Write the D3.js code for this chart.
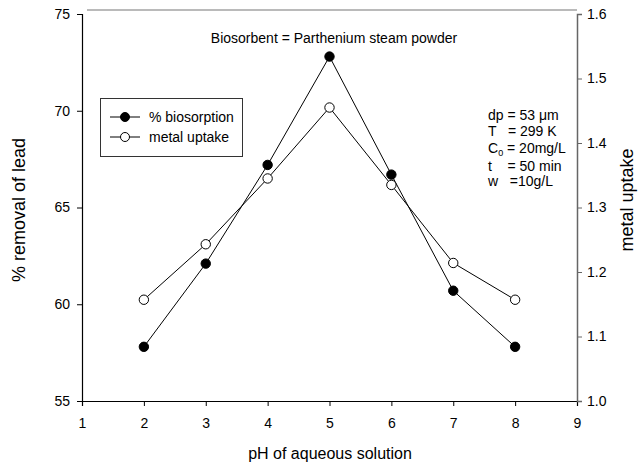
<!DOCTYPE html>
<html>
<head>
<meta charset="UTF-8">
<script src="https://cdn.jsdelivr.net/npm/d3@7"></script>
<style>
body {margin:0; background:#fff;}
text {font-family: Arial, "Liberation Sans", sans-serif; fill:#000;}
</style>
</head>
<body>
<svg id="chart" width="638" height="468"></svg>
<script>
// data
var pH = [2, 3, 4, 5, 6, 7, 8];
var biosorption = [57.8, 62.1, 67.2, 72.8, 66.7, 60.7, 57.8];
var uptake = [1.157, 1.243, 1.345, 1.455, 1.335, 1.214, 1.157];
var xTicks = [1, 2, 3, 4, 5, 6, 7, 8, 9];
var leftTicks = [55, 60, 65, 70, 75];
var rightTicks = [1.0, 1.1, 1.2, 1.3, 1.4, 1.5, 1.6];
var notes = ["dp = 53 \u03bcm", "T   = 299 K", "C0 = 20mg/L", "t    = 50 min", "w   =10g/L"];

var svg = d3.select("#chart");
var L = 82, R = 577, T = 14, B = 401;

var x = d3.scaleLinear().domain([1, 9]).range([L, R]);
var yL = d3.scaleLinear().domain([55, 75]).range([B, T]);
var yR = d3.scaleLinear().domain([1.0, 1.6]).range([B, T]);

// top frame line (gray, a little above the axes like in the original)
svg.append("line").attr("x1", L + 5).attr("x2", R).attr("y1", 10).attr("y2", 10)
    .attr("stroke", "#777").attr("stroke-width", 1.2);

var gx = svg.append("g").attr("transform", "translate(0," + B + ")")
    .call(d3.axisBottom(x).tickValues(xTicks).tickFormat(d3.format("d")).tickSizeOuter(0).tickSize(5).tickPadding(12));
var gl = svg.append("g").attr("transform", "translate(" + L + ",0)")
    .call(d3.axisLeft(yL).tickValues(leftTicks).tickFormat(d3.format("d")).tickSizeOuter(0).tickSize(5).tickPadding(7));
var gr = svg.append("g").attr("transform", "translate(" + R + ",0)")
    .call(d3.axisRight(yR).tickValues(rightTicks).tickFormat(d3.format(".1f")).tickSizeOuter(0).tickSize(5).tickPadding(5));
[gx, gl].forEach(function(g) {
  g.select(".domain").attr("stroke", "#000").attr("stroke-width", 1.2);
  g.selectAll(".tick line").attr("stroke", "#000");
});
gr.select(".domain").attr("stroke", "#666").attr("stroke-width", 1.5);
gr.selectAll(".tick line").attr("stroke", "#666");
svg.selectAll(".tick text").attr("fill", "#000").style("font-size", "14px")
    .style("font-family", "Arial, 'Liberation Sans', sans-serif");

// axis titles
svg.append("text").attr("x", 330).attr("y", 459).attr("text-anchor", "middle")
    .style("font-size", "16px").text("pH of aqueous solution");
svg.append("text").attr("transform", "translate(25,210) rotate(-90)")
    .attr("text-anchor", "middle").style("font-size", "18px").text("% removal of lead");
svg.append("text").attr("transform", "translate(633,200) rotate(-90)")
    .attr("text-anchor", "middle").style("font-size", "18px").text("metal uptake");

// series
var lineL = d3.line().x(function(d, i) { return x(pH[i]); }).y(function(d) { return yL(d); });
var lineR = d3.line().x(function(d, i) { return x(pH[i]); }).y(function(d) { return yR(d); });
svg.append("path").attr("d", lineL(biosorption)).attr("fill", "none").attr("stroke", "#000").attr("stroke-width", 1);
svg.append("path").attr("d", lineR(uptake)).attr("fill", "none").attr("stroke", "#000").attr("stroke-width", 1);
svg.selectAll(".ptL").data(biosorption).enter().append("circle")
    .attr("cx", function(d, i) { return x(pH[i]); }).attr("cy", function(d) { return yL(d); })
    .attr("r", 4.7).attr("fill", "#000").attr("stroke", "#000");
svg.selectAll(".ptR").data(uptake).enter().append("circle")
    .attr("cx", function(d, i) { return x(pH[i]); }).attr("cy", function(d) { return yR(d); })
    .attr("r", 4.7).attr("fill", "#fff").attr("stroke", "#000");

// title inside plot
svg.append("text").attr("x", 334).attr("y", 43).attr("text-anchor", "middle")
    .style("font-size", "14px").text("Biosorbent = Parthenium steam powder");

// legend
var lg = svg.append("g");
lg.append("rect").attr("x", 100.5).attr("y", 98.5).attr("width", 142).attr("height", 58)
    .attr("fill", "#fff").attr("stroke", "#333").attr("stroke-width", 1);
[["% biosorption", "#000"], ["metal uptake", "#fff"]].forEach(function(d, i) {
  var yy = 117 + i * 20;
  lg.append("line").attr("x1", 110).attr("x2", 140).attr("y1", yy).attr("y2", yy).attr("stroke", "#000");
  lg.append("circle").attr("cx", 125).attr("cy", yy).attr("r", 4.5).attr("fill", d[1]).attr("stroke", "#000");
  lg.append("text").attr("x", 149).attr("y", yy + 5).style("font-size", "14px").text(d[0]);
});

// conditions
var ng = svg.append("g").style("font-size", "14px");
var noteY = [120, 136, 153, 171, 186];
notes.forEach(function(s, i) {
  var t = ng.append("text").attr("x", 488).attr("y", noteY[i]).attr("xml:space", "preserve");
  if (i === 2) {
    t.text("C");
    t.append("tspan").attr("dy", 3).style("font-size", "9px").text("0");
    t.append("tspan").attr("dy", -3).text(" = 20mg/L");
  } else {
    t.text(s);
  }
});
</script>
</body>
</html>
